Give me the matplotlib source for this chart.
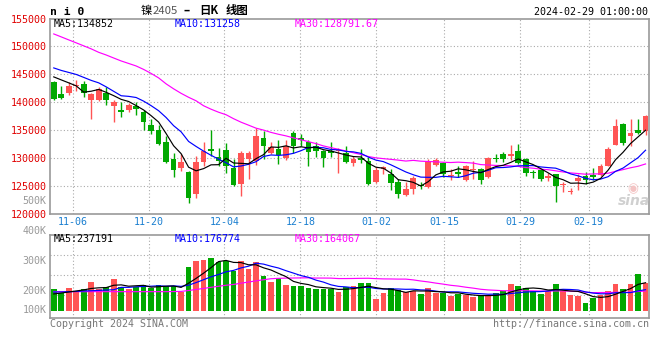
import numpy as np
import matplotlib
matplotlib.use("Agg")
import matplotlib.pyplot as plt

# ---------------- data ----------------
tick_idx = [3, 13, 23, 33, 43, 52, 62, 71]
tick_labels = ["11-06", "11-20", "12-04", "12-18", "01-02", "01-15", "01-29", "02-19"]
price_ticks = [120000, 125000, 130000, 135000, 140000, 145000, 150000, 155000]

opens = [143600, 141500, 141600, 142950, 143300, 140460, 140290, 141600, 139220, 138630,
         138630, 139340, 138140, 135950, 135050, 132780, 129870, 128090, 127500, 123570,
         129220, 131660, 130110, 131430, 128210, 125290, 129700, 129340, 133630, 130890,
         131610, 130000, 134390, 133630, 132910, 132200, 131130, 131250, 131130, 130890,
         128980, 129930, 129340, 125640, 127910, 127070, 125640, 123270, 124430, 125110,
         124750, 128680, 128980, 126710, 127500, 126000, 127790, 127910, 126530, 130050,
         130590, 130360, 131300, 129700, 127290, 127730, 126430, 127020, 125050, 123800,
         125820, 126790, 126890, 126890, 128570, 132250, 136130, 133930, 135050, 134750]
highs = [143700, 142900, 143600, 144000, 143700, 141710, 142790, 142700, 140410, 139930,
         139830, 140050, 138630, 136960, 135890, 133980, 130770, 130590, 127550, 130290,
         132860, 135000, 131840, 132680, 129700, 131180, 131130, 135400, 134880, 132790,
         133270, 133140, 134750, 134210, 133140, 132790, 131360, 132790, 131840, 132200,
         130410, 131610, 130180, 128390, 128500, 127910, 126250, 125590, 126660, 125640,
         129700, 129930, 129210, 128040, 128500, 128630, 129470, 128150, 130180, 130640,
         130990, 132320, 132550, 130050, 127860, 127860, 127250, 127140, 125720, 124520,
         127020, 127380, 128090, 128800, 131890, 136890, 136250, 136890, 136890, 137730]
lows = [140300, 140600, 141200, 141900, 141000, 137020, 140200, 139400, 136480, 137250,
        138140, 137610, 135050, 134340, 132380, 128980, 126540, 127610, 121890, 122860,
        128450, 130290, 128450, 127200, 124930, 123140, 126250, 128750, 129820, 130710,
        128800, 129570, 130890, 132200, 128500, 130180, 128320, 130180, 127320, 129110,
        128500, 128980, 125180, 125410, 127020, 124210, 122790, 123090, 123540, 124340,
        124640, 128500, 126610, 125990, 126610, 125770, 126130, 125360, 126360, 129160,
        129290, 129570, 128860, 126660, 126360, 125820, 125820, 122070, 123860, 123570,
        124210, 125360, 126070, 126660, 128450, 132250, 132380, 132140, 134290, 134040]
closes = [140600, 140800, 142900, 143000, 141600, 141430, 142430, 140300, 140000, 138270,
          139520, 138750, 136360, 134880, 132550, 129220, 127780, 129290, 122730, 129290,
          131180, 131180, 129430, 128450, 125110, 130820, 130820, 133980, 132070, 132020,
          130460, 132200, 132070, 133140, 131000, 131130, 129930, 130890, 131360, 129210,
          129700, 129570, 125290, 127790, 128270, 125410, 123500, 124470, 126300, 125000,
          129340, 129520, 127140, 126960, 127140, 128450, 128040, 126000, 129880, 129700,
          129700, 130590, 129110, 127250, 127220, 126130, 126790, 125000, 125140, 124110,
          126300, 126070, 126540, 128450, 131540, 135710, 132730, 134390, 134390, 137500]
volumes = [189200, 156900, 197900, 174400, 189200, 250200, 186600, 206600, 276400, 206600,
           191800, 206600, 224100, 197900, 224100, 215300, 215300, 163000, 381000, 433300,
           442000, 459400, 424600, 433300, 346100, 433300, 363500, 424600, 302500, 250200,
           285100, 224100, 215300, 215300, 197900, 189200, 189200, 189200, 163000, 206600,
           215300, 241500, 241500, 102000, 154300, 197900, 180500, 163000, 171700, 145600,
           197900, 154300, 154300, 128200, 145600, 136900, 119400, 128200, 128200, 154300,
           171700, 232800, 215300, 197900, 171700, 145600, 171700, 232800, 171700, 136900,
           128200, 67100, 110700, 136900, 171700, 232800, 189200, 232800, 320000, 244100]

# moving-average values before enough visible history exists
ma5_head = [144520, 143980, 143450, 142910]
ma10_head = [146130, 145680, 145320, 144960, 144430, 143890, 143450, 142730, 141930]
ma30_head = [152230, 151700, 151160, 150630, 150090, 149550, 148930, 148450, 147910, 147380,
             146930, 146480, 145860, 145140, 144340, 143270, 142380, 141570, 140860, 140230,
             139340, 138720, 138180, 137730, 137020, 136390, 135860, 135320, 134970]
vma5_head = [146000, 154000, 163000, 172000]
vma10_head = [163000, 163000, 166000, 168000, 172000, 174000, 177000, 180000, 183000]
vma30_head = [166000, 166000, 166000, 166000, 166000, 166000, 166000, 166000, 166000, 166000,
              166000, 166000, 166000, 166000, 166000, 166000, 167000, 168000, 176000, 185000,
              194000, 204000, 213000, 222000, 229000, 240000, 250000, 260000, 270000]

price_ma_text = ["MA5:134852", "MA10:131258", "MA30:128791.67"]
vol_ma_text = ["MA5:237191", "MA10:176774", "MA30:164067"]
vol_axis_labels = ["500K", "400K", "300K", "200K", "100K"]

# ---------------- helpers ----------------
W, H = 660, 360
fig = plt.figure(figsize=(W / 100, H / 100), dpi=100)
MONO = "DejaVu Sans Mono"
FS = 7.2


def rect(x0, y0, x1, y1):
    return [x0 / W, 1 - y1 / H, (x1 - x0) / W, (y1 - y0) / H]


def ftext(xp, yp, s, **kw):
    kw.setdefault("va", "center")
    kw.setdefault("fontsize", FS)
    kw.setdefault("family", MONO)
    return fig.text(xp / W, 1 - yp / H, s, **kw)


def moving_avg(values, head, n):
    v = np.asarray(values, float)
    out = np.full(len(v), np.nan)
    for i in range(n - 1, len(v)):
        out[i] = v[i - n + 1:i + 1].mean()
    out[:len(head)] = head
    return out


UP, DOWN = "#ff5454", "#00a800"
GRID = "#aaaaaa"
FRAME = "#999999"

x = np.arange(len(closes))
o = np.array(opens, float)
c = np.array(closes, float)
up = c >= o
cols = np.where(up, UP, DOWN)
grid_x = np.array(tick_idx) * 80 / 79 - 0.5

# ---------------- price panel ----------------
ax = fig.add_axes(rect(50, 18.5, 649.3, 213.5))
ax.set_xlim(-0.5, len(x) - 0.5)
ax.set_ylim(price_ticks[0], price_ticks[-1])
for yv in price_ticks[1:-1]:
    ax.axhline(yv, color=GRID, lw=0.8, ls=(0, (1, 2)), zorder=1)
for gx in grid_x:
    ax.axvline(gx, color=GRID, lw=0.8, ls=(0, (1, 2)), zorder=1)

ax.vlines(x, lows, highs, colors=cols, lw=1.0, zorder=2)
body_h = np.maximum(np.abs(c - o), 170)
ax.bar(x, body_h, bottom=np.minimum(o, c), width=0.76, color=cols, lw=0, zorder=3)

ax.plot(x, moving_avg(closes, ma30_head, 30), color="#ff00ff", lw=0.85, zorder=4)
ax.plot(x, moving_avg(closes, ma10_head, 10), color="#0000ff", lw=0.85, zorder=4)
ax.plot(x, moving_avg(closes, ma5_head, 5), color="black", lw=0.85, zorder=5)

ax.set_yticks(price_ticks)
ax.set_yticklabels([str(v) for v in price_ticks], color="#e00000", family=MONO, fontsize=FS)
ax.set_xticks(grid_x)
ax.set_xticklabels(tick_labels, color="#1a7fd0", family=MONO, fontsize=FS)
ax.tick_params(length=0, pad=2.4)
ax.tick_params(axis="x", pad=2.6)
for sp in ax.spines.values():
    sp.set_color(FRAME)
    sp.set_linewidth(1.2)

for s, xp, col in zip(price_ma_text, [54, 175, 295], ["black", "#0000ff", "#ff00ff"]):
    ftext(xp, 23.8, s, color=col)

# faint sina watermark
ftext(634, 201, "sina", color="#d0d0d0", fontsize=10, family="DejaVu Sans",
      style="italic", weight="bold", ha="center")
ftext(633, 189, "◉", color="#f4c4c4", fontsize=9, family="DejaVu Sans", ha="center")

# ---------------- volume panel ----------------
axv = fig.add_axes(rect(50, 234.7, 649.3, 318))
axv.set_xlim(-0.5, len(x) - 0.5)
axv.set_ylim(-63600, 662600)
for f in (0.272, 0.513, 0.756):
    axv.plot([0, 1], [f, f], transform=axv.transAxes, color=GRID, lw=0.8,
             ls=(0, (1, 2)), zorder=1)
for gx in grid_x:
    axv.axvline(gx, color=GRID, lw=0.8, ls=(0, (1, 2)), zorder=1)
axv.bar(x, volumes, width=0.76, color=cols, lw=0, zorder=2)
axv.plot(x, moving_avg(volumes, vma30_head, 30), color="#ff00ff", lw=0.85, zorder=3)
axv.plot(x, moving_avg(volumes, vma10_head, 10), color="#0000ff", lw=0.85, zorder=3)
axv.plot(x, moving_avg(volumes, vma5_head, 5), color="black", lw=0.85, zorder=4)
axv.set_xticks([])
axv.set_yticks([])
for sp in axv.spines.values():
    sp.set_color(FRAME)
    sp.set_linewidth(1.2)

for s, xp, col in zip(vol_ma_text, [54, 175, 295], ["black", "#0000ff", "#ff00ff"]):
    ftext(xp, 239.5, s, color=col)

for s, yp in zip(vol_axis_labels, [200.7, 231, 260.7, 290.7, 310]):
    ftext(46.5, yp, s, color="#999999", ha="right")

# ---------------- header / footer ----------------
ftext(50.5, 12, "n i 0", color="black", weight="bold", fontsize=8.2)
CJK = ["Noto Sans CJK SC", "DejaVu Sans"]
ftext(141, 10.5, "镍", family=CJK, fontsize=8.2, color="black")
ftext(152.5, 10.5, "2405", family=CJK, fontsize=8.2, color="#555555")
ftext(184, 10.5, "–", family=CJK, fontsize=8.2, color="black", weight="bold")
ftext(199, 10.5, "日K", family=CJK, fontsize=8.2, color="black", weight="bold")
ftext(226, 10.5, "线图", family=CJK, fontsize=8.2, color="black", weight="bold")
ftext(648.5, 12, "2024-02-29 01:00:00", color="black", ha="right")

ftext(50, 324, "Copyright 2024 SINA.COM", color="#777777")
ftext(649.3, 324, "http://finance.sina.com.cn", color="#777777", ha="right")

fig.savefig("out.png", dpi=100)
